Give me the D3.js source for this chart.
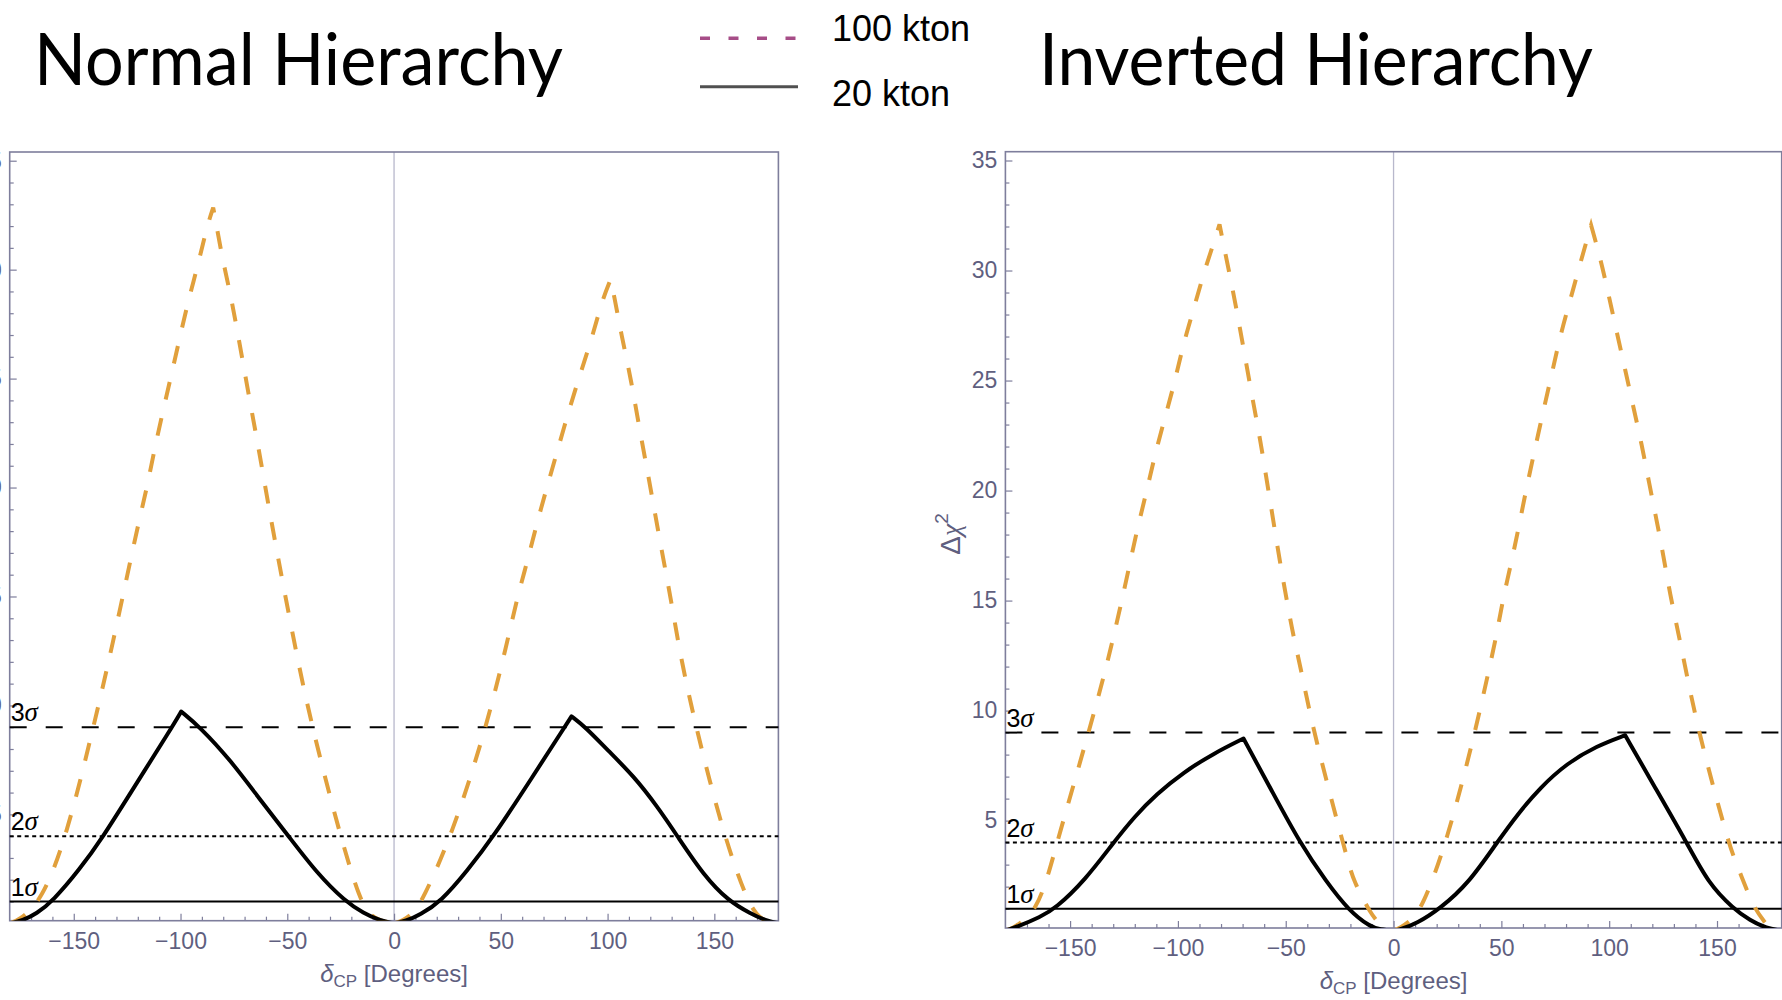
<!DOCTYPE html>
<html>
<head>
<meta charset="utf-8">
<script src="https://cdn.jsdelivr.net/npm/d3@7"></script>
<style>
  body { margin: 0; background: #fff; overflow: hidden; }
  svg { display: block; }
</style>
</head>
<body>
<script>
// ---- data: [deltaCP in degrees, delta chi^2] ----
const xTicks = [-150, -100, -50, 0, 50, 100, 150];
const yTicks = [5, 10, 15, 20, 25, 30, 35];
const sigmaLevels = [1, 4, 9];
const sigmaNames = ["1", "2", "3"];
const legendNames = ["100 kton", "20 kton"];

// Normal hierarchy, 100 kton (dashed orange)
const nh100A = [[-180,0],[-176,0.12],[-165,1.0],[-153.3,4.0],[-140.8,9.0],[-132.2,12.6],[-120.5,18.05],
  [-115.8,19.95],[-111.9,21.9],[-108,23.6],[-104,25.3],[-100.2,26.95],[-96.3,28.6],[-91.6,30.3],
  [-87.7,31.95],[-84.7,32.85],[-82.2,31.5],[-79.9,30.3],[-76.7,28.9],[-73.6,27.3],[-70.5,25.6],
  [-67.4,23.9],[-64.2,22.2],[-61.1,20.5],[-58,18.7],[-46.3,12.6],[-38.4,9.0],[-25.2,4.0],
  [-15.8,1.0],[-11,0.35],[-6.4,0.12],[0,0]];
const nh100B = [[0,0],[4,0.12],[9,0.45],[13,1.0],[27,4.0],[43.3,9.0],[53,12.9],[57.7,14.95],[62.4,16.6],
  [67,18.4],[71.7,20.05],[76.4,21.65],[81.9,23.55],[87.3,25.25],[92.8,26.9],[97.5,28.6],[101.4,29.55],
  [103,28.85],[106.2,27.15],[110,25.4],[112.3,24.2],[115.5,22.4],[118.6,20.8],[121.7,19.1],[124.8,17.4],
  [128,15.75],[131,14.1],[134.2,12.25],[141.3,9.0],[154.5,4.0],[165.5,1.0],[170,0.4],[173,0.12],[180,0]];
// Normal hierarchy, 20 kton (solid black)
const nh20A = [[-180,0],[-174,0.12],[-167.4,0.45],[-160,1.0],[-147,2.5],[-136.1,4.0],[-124.6,5.8],
  [-104,9.0],[-99.7,9.72],[-90.8,9.0],[-76.7,7.5],[-62.7,5.67],[-49.4,4.0],[-36.1,2.3],[-22.8,1.0],
  [-14.3,0.47],[-6.4,0.12],[0,0]];
const nh20B = [[0,0],[5.5,0.1],[12,0.38],[22,1.0],[34.2,2.4],[46.7,4.0],[64.7,6.7],[79.5,8.95],
  [83.1,9.5],[89.7,9.0],[100,7.95],[112.3,6.75],[123.3,5.36],[132.7,4.0],[145,2.2],[156.9,1.0],[167,0.45],
  [174.1,0.12],[180,0]];

// Inverted hierarchy, 100 kton
const ih100A = [[-180,0],[-176.2,0.12],[-171,0.5],[-166,1.0],[-161,2.2],[-156.1,4.0],[-141.4,9.0],
  [-134.5,11.5],[-130.6,13.05],[-126.7,14.7],[-122.9,16.4],[-119,18.2],[-114.4,20.0],[-110.5,21.7],
  [-105.9,23.35],[-101.3,25.0],[-97.4,26.7],[-92.8,28.2],[-88.1,29.87],[-82.7,31.46],[-80.7,32.1],
  [-78.9,31.2],[-74.2,28.96],[-71.1,27.3],[-68,25.6],[-65,23.96],[-61.8,22.3],[-58.7,20.4],[-55.7,18.6],
  [-52.6,16.7],[-49.5,15.0],[-46.4,13.35],[-42.5,11.7],[-37.1,9.0],[-20.9,3.05],[-18.6,2.29],
  [-10.8,0.78],[-5.4,0.17],[0,0]];
const ih100B = [[0,0],[3,0.12],[8,0.45],[13.1,1.0],[24.7,4.0],[37.8,9.0],[44.8,12.1],[47.9,13.5],
  [51,15.2],[54.8,16.8],[58.4,18.5],[61.8,20.2],[65.6,21.9],[69.5,23.65],[73.4,25.3],[77.2,27.0],
  [81.9,28.65],[86.5,30.3],[91.6,32.06],[95.8,30.6],[99.6,28.96],[103.5,27.2],[107.4,25.5],[111.2,23.8],
  [115.1,22.1],[118.6,20.3],[122,18.65],[125.1,17.06],[128.2,15.3],[131.8,13.65],[134.4,12.4],
  [141.4,9.0],[155.3,4.0],[158,3.3],[164,1.8],[167.5,1.0],[172,0.4],[174.5,0.12],[180,0]];
// Inverted hierarchy, 20 kton
const ih20A = [[-180,0],[-174.6,0.17],[-163.8,0.62],[-156.9,1.0],[-143,2.3],[-129.9,4.0],[-120,5.2],
  [-110,6.2],[-97.4,7.2],[-83.5,8.05],[-69.6,8.73],[-56.6,6.38],[-43.3,3.96],[-31,2.2],
  [-20.9,0.93],[-10.8,0.17],[-6.2,0.05],[0,0]];
const ih20B = [[0,0],[3,0.05],[10.8,0.32],[21.6,1.0],[34.7,2.14],[47.9,4.0],[58,5.35],[68,6.5],[80.3,7.6],
  [94.3,8.4],[107.4,8.88],[122,6.38],[136,4.0],[146,2.14],[157.6,1.0],[165.3,0.47],[173,0.1],[180,0]];

const W = 1782, H = 1000;
const orange = "#e1a03c";
const frameColor = "#7e7e9c";
const labelColor = "#5f5f7f";

const svg = d3.select("body").append("svg")
  .attr("width", W).attr("height", H)
  .attr("font-family", "'Liberation Sans', Arial, sans-serif");

// titles
svg.append("text").attr("x", 34).attr("y", 85)
  .attr("font-family", "Lato, sans-serif").attr("font-size", 71)
  .attr("textLength", 529).attr("lengthAdjust", "spacingAndGlyphs")
  .text("Normal Hierarchy");
svg.append("text").attr("x", 1039).attr("y", 85)
  .attr("font-family", "Lato, sans-serif").attr("font-size", 71)
  .attr("textLength", 554).attr("lengthAdjust", "spacingAndGlyphs")
  .text("Inverted Hierarchy");

// legend
svg.append("line").attr("x1", 700).attr("x2", 797).attr("y1", 38.3).attr("y2", 38.3)
  .attr("stroke", "#a64d87").attr("stroke-width", 3.5).attr("stroke-dasharray", "10,18.5");
svg.append("line").attr("x1", 700).attr("x2", 798).attr("y1", 86.7).attr("y2", 86.7)
  .attr("stroke", "#505050").attr("stroke-width", 3);
svg.selectAll("text.leg").data(legendNames).join("text").attr("class", "leg")
  .attr("x", 832).attr("y", (d, i) => i === 0 ? 40.7 : 106)
  .attr("font-size", 36).text(d => d);

function panel(cfg) {
  const { left, top, size, id, series100, series20 } = cfg;
  const right = left + size, bottom = top + size;
  const x = d3.scaleLinear().domain([-180, 180]).range([left, right]);
  const y = d3.scaleLinear().domain([0.12, 35.4]).range([bottom, top]);
  const g = svg.append("g");

  g.append("clipPath").attr("id", id).append("rect")
    .attr("x", left).attr("y", top).attr("width", size).attr("height", size);

  // zero line
  g.append("line").attr("x1", x(0)).attr("x2", x(0)).attr("y1", top).attr("y2", bottom)
    .attr("stroke", "#b8b8cc").attr("stroke-width", 1.3);

  // axes: inward ticks, labels
  const xMinor = d3.range(-170, 180, 10).filter(v => v % 50 !== 0);
  const yMinor = d3.range(1, 36, 1).filter(v => v % 5 !== 0);
  const styleAxis = a => {
    a.select(".domain").remove();
    a.selectAll("line").attr("stroke", frameColor).attr("stroke-width", 1.2);
    a.selectAll("text").attr("fill", labelColor).attr("font-size", 23)
      .attr("font-family", "'Liberation Sans', Arial, sans-serif");
  };
  g.append("g").attr("transform", `translate(0,${bottom})`)
    .call(d3.axisBottom(x).tickValues(xTicks).tickSize(-7).tickPadding(12).tickFormat(d3.format("d")))
    .call(styleAxis);
  g.append("g").attr("transform", `translate(0,${bottom})`)
    .call(d3.axisBottom(x).tickValues(xMinor).tickSize(-4).tickFormat(""))
    .call(styleAxis);
  g.append("g").attr("transform", `translate(${left},0)`)
    .call(d3.axisLeft(y).tickValues(yTicks).tickSize(-7).tickPadding(8))
    .call(styleAxis);
  g.append("g").attr("transform", `translate(${left},0)`)
    .call(d3.axisLeft(y).tickValues(yMinor).tickSize(-4).tickFormat(""))
    .call(styleAxis);

  // frame
  g.append("rect").attr("x", left).attr("y", top).attr("width", size).attr("height", size)
    .attr("fill", "none").attr("stroke", frameColor).attr("stroke-width", 1.6);

  // axis labels
  const xl = g.append("text").attr("x", x(0)).attr("y", bottom + 61)
    .attr("text-anchor", "middle").attr("fill", labelColor).attr("font-size", 24);
  xl.append("tspan").attr("font-style", "italic").text("δ");
  xl.append("tspan").attr("font-size", 17).attr("dy", 5).text("CP");
  xl.append("tspan").attr("dy", -5).text(" [Degrees]");

  const yl = g.append("text").attr("transform", `translate(${left - 45},${(top + bottom) / 2 - 6}) rotate(-90)`)
    .attr("text-anchor", "middle").attr("fill", labelColor).attr("font-size", 28);
  yl.append("tspan").text("Δ");
  yl.append("tspan").attr("font-style", "italic").attr("font-family", "'Liberation Serif', serif").text("χ");
  yl.append("tspan").attr("font-size", 19).attr("dy", -12).text("2");

  // sigma levels
  const dashes = ["none", "4,3.5", "17,19"];
  g.selectAll("line.sig").data(sigmaLevels).join("line").attr("class", "sig")
    .attr("x1", left).attr("x2", right).attr("y1", d => y(d)).attr("y2", d => y(d))
    .attr("stroke", "#000").attr("stroke-width", 2)
    .attr("stroke-dasharray", (d, i) => dashes[i]);
  const sl = g.selectAll("text.sig").data(sigmaLevels).join("text").attr("class", "sig")
    .attr("x", left + 1).attr("y", d => y(d) - 6).attr("font-size", 25).attr("fill", "#000");
  sl.append("tspan").text((d, i) => sigmaNames[i]);
  sl.append("tspan").attr("font-style", "italic").attr("font-family", "'Liberation Serif', serif")
    .attr("font-size", 27).text("σ");

  // curves, each hump joined at its cusp
  const line = d3.line().x(d => x(d[0])).y(d => y(d[1])).curve(d3.curveBasis);
  const hump = pts => {
    const i = d3.maxIndex(pts, d => d[1]);
    return line(pts.slice(0, i + 1)) + line(pts.slice(i)).replace(/^M/, "L");
  };
  const curves = g.append("g").attr("clip-path", `url(#${id})`);
  curves.selectAll("path.k100").data(series100).join("path").attr("class", "k100")
    .attr("d", hump).attr("fill", "none").attr("stroke", orange)
    .attr("stroke-width", 4).attr("stroke-dasharray", "18,19");
  curves.selectAll("path.k20").data(series20).join("path").attr("class", "k20")
    .attr("d", hump).attr("fill", "none").attr("stroke", "#000")
    .attr("stroke-width", 4).attr("stroke-linejoin", "round");
}

panel({ id: "clipNH", left: 9.7, top: 152, size: 768.7, series100: [nh100A, nh100B], series20: [nh20A, nh20B] });
panel({ id: "clipIH", left: 1005.4, top: 151.7, size: 776.3, series100: [ih100A, ih100B], series20: [ih20A, ih20B] });
</script>
</body>
</html>
